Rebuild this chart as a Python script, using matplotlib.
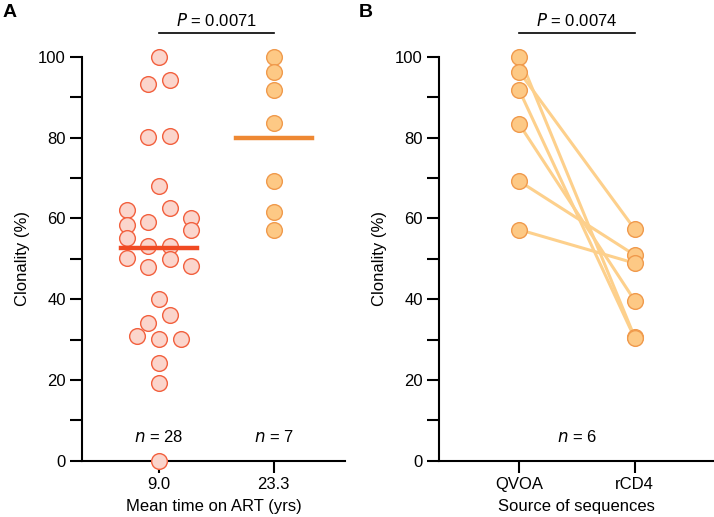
import matplotlib
matplotlib.use("Agg")
import matplotlib.pyplot as plt
import numpy as np

plt.rcParams['font.family'] = ['Liberation Sans', 'DejaVu Sans']
plt.rcParams['font.size'] = 12

# panel A: clonality by mean time on ART
GROUPS_A = ['9.0', '23.3']
short_art = [100, 93.2, 94.2, 80.2, 80.4, 68.0, 62.6, 62.0, 59.1, 60.1,
             57.0, 58.4, 55.1, 53.1, 53.1, 50.2, 48.0, 50.0, 48.1, 40.1,
             36.0, 34.0, 30.8, 30.1, 30.1, 24.1, 19.2, 0]
# beeswarm slot of each point (multiples of the slot width)
short_slot = [0, -1, 1, -1, 1, 0, 1, -3, -1, 3,
              3, -3, -3, -1, 1, -3, -1, 1, 3, 0,
              1, -1, -2, 0, 2, 0, 0, 0]
long_art = [100, 96.3, 91.9, 83.5, 69.2, 61.6, 57.2]
P_A_VAL = '0.0071'

# panel B: paired QVOA vs rCD4
GROUPS_B = ['QVOA', 'rCD4']
qvoa = [100, 96.3, 91.7, 83.3, 69.2, 57.2]
rcd4 = [30.5, 57.3, 30.3, 39.6, 50.9, 48.9]
P_B_VAL = '0.0074'

PINK_FACE = '#FBD5CC'
PINK_EDGE = '#F2603E'
RED_LINE = '#F04A22'
ORG_FACE = '#FDC985'
ORG_EDGE = '#F09A4C'
ORG_LINE = '#EE8833'
PAIR_LINE = '#FDD08C'

fig = plt.figure(figsize=(7.14, 5.17), dpi=100)
axA = fig.add_axes([0.1148, 0.109, 0.3684, 0.781])
axB = fig.add_axes([0.6148, 0.109, 0.3852, 0.781])


def style(ax, xlim):
    ax.set_xlim(*xlim)
    ax.set_ylim(0, 100)
    for s in ['top', 'right']:
        ax.spines[s].set_visible(False)
    for s in ['left', 'bottom']:
        ax.spines[s].set_linewidth(1.5)
    ax.set_yticks(np.arange(0, 101, 20))
    ax.set_yticks(np.arange(10, 100, 20), minor=True)
    ax.tick_params(which='both', length=8.5, width=1.5, pad=3, labelsize=12)
    ax.set_ylabel('Clonality (%)', fontsize=12, labelpad=6)


def pbar(ax, x0, x1, val):
    ax.plot([x0, x1], [106.0, 106.0], color='black', lw=1.2, clip_on=False)
    ax.text((x0 + x1) / 2, 107.0, '$\\it{P}$ = ' + val, ha='center', va='bottom',
            fontsize=12)


# ---- A ----
style(axA, (-0.67, 1.62))
slot_w = 0.094
xs = np.array(short_slot) * slot_w
axA.plot(xs, short_art, 'o', ms=11.3, mfc=PINK_FACE, mec=PINK_EDGE, mew=1,
         clip_on=False, zorder=3)
axA.plot(np.ones(len(long_art)), long_art, 'o', ms=11.3, mfc=ORG_FACE,
         mec=ORG_EDGE, mew=1, clip_on=False, zorder=3)
axA.plot([-0.33, 0.33], [np.mean(short_art)] * 2, color=RED_LINE, lw=3.2, zorder=4)
axA.plot([-0.33 + 1, 0.33 + 1], [np.mean(long_art)] * 2, color=ORG_LINE, lw=3.2, zorder=4)
axA.set_xticks([0, 1])
axA.set_xticklabels(GROUPS_A)
axA.set_xlabel('Mean time on ART (yrs)', fontsize=12, labelpad=5.5)
axA.text(0, 5.8, '$\\it{n}$ = %d' % len(short_art), ha='center', va='center')
axA.text(1, 5.8, '$\\it{n}$ = %d' % len(long_art), ha='center', va='center')
pbar(axA, 0, 1, P_A_VAL)

# ---- B ----
style(axB, (-0.696, 1.686))
for a, b in zip(qvoa, rcd4):
    axB.plot([0, 1], [a, b], color=PAIR_LINE, lw=2.2, zorder=2)
axB.plot(np.zeros(len(qvoa)), qvoa, 'o', ms=11.3, mfc=ORG_FACE, mec=ORG_EDGE,
         mew=1, clip_on=False, zorder=3)
axB.plot(np.ones(len(rcd4)), rcd4, 'o', ms=11.3, mfc=ORG_FACE, mec=ORG_EDGE,
         mew=1, clip_on=False, zorder=3)
axB.set_xticks([0, 1])
axB.set_xticklabels(GROUPS_B)
axB.set_xlabel('Source of sequences', fontsize=12, labelpad=5.5)
axB.text(0.5, 5.8, '$\\it{n}$ = %d' % len(qvoa), ha='center', va='center')
pbar(axB, 0, 1, P_B_VAL)

fig.text(0.004, 0.992, 'A', fontsize=14, fontweight='bold', va='top')
fig.text(0.503, 0.992, 'B', fontsize=14, fontweight='bold', va='top')

fig.savefig('out.png', dpi=100)
